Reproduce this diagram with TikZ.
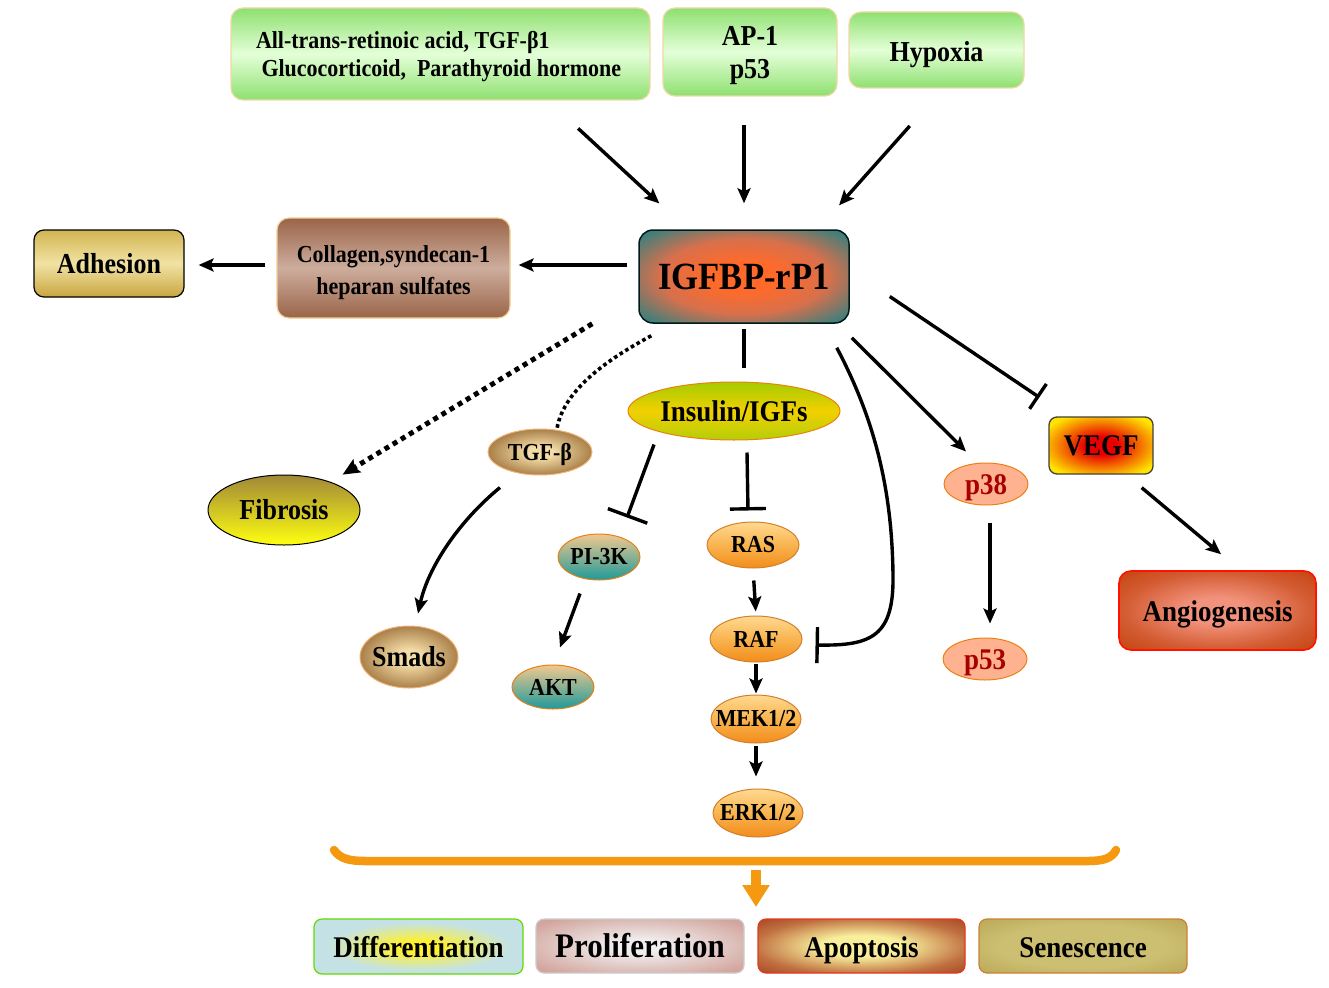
\documentclass[tikz,border=0pt]{standalone}
\usepackage{fontspec}
\setmainfont{Liberation Serif}[FakeStretch=0.9]
\usetikzlibrary{arrows.meta,shapes.geometric,calc}
\definecolor{igO}{HTML}{FF6A2A}
\definecolor{igM}{HTML}{D8704C}
\definecolor{igT}{HTML}{2E8080}
\definecolor{vR}{HTML}{E80000}
\definecolor{vY}{HTML}{FFE400}
\definecolor{anC}{HTML}{F2927C}
\definecolor{anM}{HTML}{D35C32}
\definecolor{anE}{HTML}{C4420E}
\definecolor{dY}{HTML}{FFF030}
\definecolor{dB}{HTML}{C4E2E6}
\definecolor{pC}{HTML}{F0EEEE}
\definecolor{pE}{HTML}{D2A49C}
\definecolor{aC}{HTML}{F8EE9C}
\definecolor{aM}{HTML}{C07040}
\definecolor{aE}{HTML}{A03E1E}
\definecolor{sC}{HTML}{CDBF72}
\definecolor{sE}{HTML}{AE9C48}
\definecolor{tC}{HTML}{F4DCA8}
\definecolor{tE}{HTML}{86541C}
\definecolor{gE}{HTML}{8EE070}
\definecolor{gM}{HTML}{E4FFD8}
\definecolor{gB}{HTML}{F2D8A4}
\definecolor{arrO}{HTML}{F59A10}
\definecolor{adT}{HTML}{D2B552}
\definecolor{adM}{HTML}{F1E3A4}
\definecolor{adB}{HTML}{C9A640}
\definecolor{coE}{HTML}{9A6448}
\definecolor{coM}{HTML}{CDAD9D}
\definecolor{inE}{HTML}{A4CC00}
\definecolor{inM}{HTML}{F2D000}
\definecolor{inB}{HTML}{B4CE08}
\definecolor{orT}{HTML}{FFD990}
\definecolor{orM}{HTML}{F9B450}
\definecolor{orB}{HTML}{F28C1A}
\definecolor{teT}{HTML}{F2C88E}
\definecolor{teB}{HTML}{1E9A9A}
\definecolor{fiT}{HTML}{A08838}
\definecolor{fiB}{HTML}{FFFF10}
\definecolor{saF}{HTML}{FFB290}
\pgfdeclareradialshading{igglow}{\pgfpoint{0bp}{0bp}}{color(0bp)=(igO); color(8bp)=(igO); color(20bp)=(igM); color(34bp)=(igT); color(50bp)=(igT)}
\pgfdeclareradialshading{vegfglow}{\pgfpoint{0bp}{0bp}}{color(0bp)=(vR); color(8bp)=(vR); color(30bp)=(vY); color(50bp)=(vY)}
\pgfdeclareradialshading{angglow}{\pgfpoint{0bp}{0bp}}{color(0bp)=(anC); color(8bp)=(anC); color(24bp)=(anM); color(36bp)=(anE); color(50bp)=(anE)}
\pgfdeclareradialshading{difglow}{\pgfpoint{0bp}{0bp}}{color(0bp)=(dY); color(5bp)=(dY); color(22bp)=(dB); color(50bp)=(dB)}
\pgfdeclareradialshading{proglow}{\pgfpoint{0bp}{0bp}}{color(0bp)=(pC); color(6bp)=(pC); color(32bp)=(pE); color(50bp)=(pE)}
\pgfdeclareradialshading{apoglow}{\pgfpoint{0bp}{0bp}}{color(0bp)=(aC); color(10bp)=(aC); color(26bp)=(aM); color(38bp)=(aE); color(50bp)=(aE)}
\pgfdeclareradialshading{senglow}{\pgfpoint{0bp}{0bp}}{color(0bp)=(sC); color(20bp)=(sC); color(44bp)=(sE); color(50bp)=(sE)}
\pgfdeclareradialshading{tgfglow}{\pgfpoint{0bp}{0bp}}{color(0bp)=(tC); color(6bp)=(tC); color(34bp)=(tE); color(50bp)=(tE)}
\begin{document}
\begin{tikzpicture}[x=1pt,y=-1pt,
  every node/.style={inner sep=0pt, align=center},
  lbl/.style={font=\bfseries\fontsize{#1}{#1}\selectfont},
  gbox/.style={draw=gB, line width=1.2pt, rounded corners=12pt, top color=gE, bottom color=gE, middle color=gM},
  pill/.style={ellipse, line width=1pt},
  orn/.style={pill, draw=brown!70!orange, top color=orT, bottom color=orB, middle color=orM},
  tea/.style={pill, draw=orange!60!brown, top color=teT, bottom color=teB},
  sal/.style={pill, draw=orange!70!brown, fill=saF, text height=22pt, text depth=2pt},
  obox/.style={rounded corners=8pt, line width=1.2pt, text height=24pt, text depth=2pt},
  arr/.style={line width=3.4pt, -{Stealth[length=15pt,width=13pt,inset=3pt]}},
  inh/.style={line width=3.4pt, -{Bar[width=#1,line width=3.4pt]}},
  pln/.style={line width=3.4pt}
]
\useasboundingbox (0,0) rectangle (1329,987);
\fill[white] (0,0) rectangle (1329,987);

% top boxes
\node[gbox, minimum width=419pt, minimum height=92pt] (b1) at (440.5,54) {};
\node[font=\bfseries\fontsize{24.4}{28}\selectfont, align=left] (b1t) at ([xshift=-2pt,yshift=-3pt]b1.center) {All-trans-retinoic acid, TGF-β1\\\ Glucocorticoid,\ \ Parathyroid hormone};
\node[gbox, minimum width=174pt, minimum height=88pt] (b2) at (750,52) {};
\node[font=\bfseries\fontsize{28.9}{33}\selectfont] (b2t) at ([yshift=-4pt]b2.center) {AP-1\\p53};
\node[gbox, minimum width=175pt, minimum height=76pt, lbl=28.9, text height=26pt, text depth=2pt] (b3) at (936.5,50) {Hypoxia};

% central
\node[draw=black!80!teal, line width=1.5pt, rounded corners=14pt, shading=igglow, minimum width=210pt, minimum height=93pt, lbl=38.5] (ig) at (744,276.5) {IGFBP-rP1};

\node[draw=gB!90!orange, line width=1.2pt, rounded corners=12pt, top color=coE, bottom color=coE, middle color=coM, minimum width=233pt, minimum height=100pt] (coll) at (393.5,268) {};
\node[font=\bfseries\fontsize{24.4}{32}\selectfont] (collt) at ([yshift=-5pt]coll.center) {Collagen,syndecan-1\\heparan sulfates};
\node[draw=black, line width=1.2pt, rounded corners=10pt, top color=adT, bottom color=adB, middle color=adM, minimum width=150pt, minimum height=67pt, lbl=28.9] (adh) at (109,263.5) {Adhesion};

% left branch
\node[pill, draw=black, top color=fiT, bottom color=fiB, minimum width=152pt, minimum height=70pt, lbl=28.9] (fib) at (284,510) {\makebox[0pt]{Fibrosis}};
\node[pill, draw=brown!40!orange!60, shading=tgfglow, minimum width=104pt, minimum height=46pt, lbl=24.4, text height=18pt, text depth=2pt] (tgfb) at (540,452) {\makebox[0pt]{TGF-β}};
\node[pill, draw=brown!40!orange!60, shading=tgfglow, minimum width=98pt, minimum height=62pt, lbl=28.9] (smads) at (409,657) {\makebox[0pt]{Smads}};

% insulin branch
\node[pill, draw=orange!70!brown, top color=inE, bottom color=inB, middle color=inM, minimum width=212pt, minimum height=58pt, lbl=30] (ins) at (734,411) {\makebox[0pt]{Insulin/IGFs}};
\node[tea, minimum width=82pt, minimum height=46pt, lbl=24.4] (pi3k) at (599,557) {\makebox[0pt]{PI-3K}};
\node[tea, minimum width=82pt, minimum height=44pt, lbl=24.4] (akt) at (553,687) {\makebox[0pt]{AKT}};
\node[orn, minimum width=92pt, minimum height=46pt, lbl=24.4] (ras) at (753,545) {\makebox[0pt]{RAS}};
\node[orn, minimum width=92pt, minimum height=46pt, lbl=24.4] (raf) at (756,639) {\makebox[0pt]{RAF}};
\node[orn, minimum width=90pt, minimum height=48pt, lbl=24.4] (mek) at (756,719) {\makebox[0pt]{MEK1/2}};
\node[orn, minimum width=90pt, minimum height=48pt, lbl=24.4] (erk) at (758,813) {\makebox[0pt]{ERK1/2}};

% right branch
\node[sal, minimum width=84pt, minimum height=42pt, lbl=30, text=red!65!black] (p38) at (986,484) {\makebox[0pt]{p38}};
\node[sal, minimum width=84pt, minimum height=42pt, lbl=30, text=red!65!black] (p53) at (985,659) {\makebox[0pt]{p53}};
\node[draw=black!85!yellow, line width=1.3pt, rounded corners=8pt, shading=vegfglow, minimum width=104pt, minimum height=57pt, lbl=30] (vegf) at (1101,445.5) {VEGF};
\node[draw=red!85!orange, line width=1.6pt, rounded corners=12pt, shading=angglow, minimum width=197pt, minimum height=79pt, lbl=30, text height=24pt, text depth=3pt] (ang) at (1217.5,610.5) {Angiogenesis};

% bottom boxes
\node[obox, draw=green!55!yellow!85!black, shading=difglow, minimum width=209pt, minimum height=55pt, lbl=30] (dif) at (418.5,946.5) {Differentiation};
\node[obox, draw=black!20, shading=proglow, minimum width=208pt, minimum height=54pt, lbl=34.4, text height=25pt] (pro) at (640,946) {Proliferation};
\node[obox, draw=red!55!brown, shading=apoglow, minimum width=207pt, minimum height=54pt, lbl=30] (apo) at (861.5,946) {Apoptosis};
\node[obox, draw=brown!80!orange, shading=senglow, minimum width=208pt, minimum height=54pt, lbl=30] (sen) at (1083,946) {Senescence};

% connectors
\draw[arr, shorten <=41pt, shorten >=38pt] ([xshift=107.5pt]b1.south) -- ([xshift=49pt]ig.north west);
\draw[arr, shorten <=28pt, shorten >=26pt] (ig.north |- b2.south) -- (ig.north);
\draw[arr, shorten <=50pt, shorten >=32pt] ([xshift=6.5pt]b3.south) -- ([xshift=-32pt]ig.north east);
\draw[arr, shorten <=11pt, shorten >=8pt] ([yshift=11.5pt]ig.west) -- ([yshift=3pt]coll.east);
\draw[arr, shorten <=11pt, shorten >=14pt] ([yshift=3pt]coll.west) -- ([yshift=-1.5pt]adh.east);

\draw[line width=5pt, dash pattern=on 5pt off 4.5pt, -{Stealth[length=17pt,width=15pt,inset=3pt]}, shorten >=14pt] ([xshift=-46pt]ig.south west) -- (fib);
\draw[line width=3.6pt, dash pattern=on 3.6pt off 3pt] ([xshift=13pt,yshift=-12pt]ig.south west) .. controls (612,357) and (564,388) .. ([xshift=17pt]tgfb.north);
\draw[arr] ([xshift=-40pt,yshift=-12pt]tgfb.south) .. controls (458,522) and (428,568) .. ([xshift=9pt,yshift=12pt]smads.north);

\draw[pln, shorten <=5pt, shorten >=14pt] (ig.south) -- (ig.south |- ins.north);
\draw[inh=42pt] ([xshift=-80pt,yshift=-4pt]ins.south) -- ([xshift=28pt,yshift=16pt]pi3k.north);
\draw[inh=36pt] ([xshift=13pt,yshift=-12pt]ins.south) -- ([xshift=-5pt,yshift=11pt]ras.north);
\draw[arr] ([xshift=-19pt,yshift=-13pt]pi3k.south) -- ([xshift=7pt,yshift=17pt]akt.north);

\draw[arr, shorten <=12pt, shorten >=4pt] (ras.south) -- (raf.north);
\draw[arr, shorten <=1pt, shorten >=1pt] (raf.south) -- (mek.north);
\draw[arr, shorten <=2pt, shorten >=12pt] (mek.south) -- (mek.south |- erk.north);

\draw[inh=36pt] ([xshift=-13pt,yshift=-24pt]ig.south east) .. controls (875,420) and (892,490) .. (893,575) .. controls (894,636) and (872,646) .. ([xshift=13pt,yshift=-6pt]raf.east);

\draw[arr] ([xshift=2pt,yshift=-14pt]ig.south east) -- ([xshift=-20pt,yshift=11pt]p38.north);
\draw[arr, shorten <=17pt, shorten >=14pt] ([xshift=4pt]p38.south) -- ([xshift=5pt]p53.north);
\draw[inh=30pt] ([xshift=40pt,yshift=-20pt]ig.east) -- ([xshift=-9pt,yshift=19pt]vegf.north west);
\draw[arr] ([xshift=-12pt,yshift=-13pt]vegf.south east) -- ([xshift=3.5pt,yshift=16pt]ang.north);

% bracket and outcome arrow
\draw[arrO, line width=8.5pt, line cap=round] (334,850) .. controls (340,859) and (350,861) .. (366,861) -- (1088,861) .. controls (1104,861) and (1112,858) .. (1116,850);
\coordinate (brk) at (756,870);
\coordinate (out) at (756,907);
\draw[arrO, line width=10pt, -{Triangle[length=22pt,width=26pt]}] (brk) -- (out);
\end{tikzpicture}
\end{document}
